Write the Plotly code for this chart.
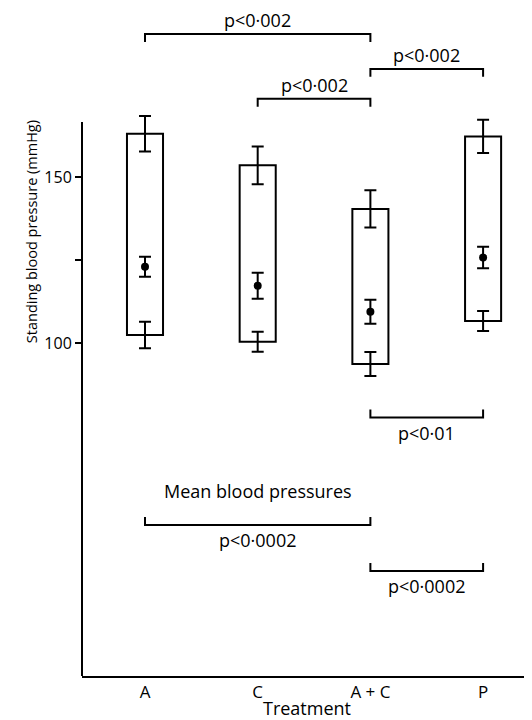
import plotly.graph_objects as go

# ---- data ----
treatments = ["A", "C", "A + C", "P"]
mean_bp = [123.0, 117.3, 109.5, 125.8]
mean_se = [3.0, 3.9, 3.6, 3.2]
high_bp = [163.0, 153.5, 140.4, 162.2]
high_se = [5.3, 5.7, 5.6, 5.0]
low_bp = [102.5, 100.5, 93.8, 106.7]
low_se = [4.0, 3.0, 3.6, 3.0]

# comparisons: (from index, to index, level in mmHg, label, side)
comparisons = [
    (0, 2, 193.0, "p<0·002", "top"),
    (1, 2, 173.5, "p<0·002", "top"),
    (2, 3, 182.5, "p<0·002", "top"),
    (2, 3, 77.7, "p<0·01", "bottom"),
    (0, 2, 45.4, "p<0·0002", "bottom"),
    (2, 3, 31.6, "p<0·0002", "bottom"),
]
note_text = "Mean blood pressures"
note_pos = (1.0, 55.6)

y_tickvals = [100, 125, 150]
y_ticktext = ["100", "", "150"]
y_axis_top = 166.5

FONT = "Open Sans"
NARROW = "Liberation Sans Narrow, Open Sans"
xs = list(range(len(treatments)))

fig = go.Figure()

# boxes spanning low to high
fig.add_trace(go.Bar(
    x=xs, y=[h - l for h, l in zip(high_bp, low_bp)], base=low_bp,
    width=0.32, marker=dict(color="rgba(0,0,0,0)", line=dict(color="black", width=2)),
    showlegend=False, hoverinfo="skip"))

err_style = dict(type="data", visible=True, color="black", thickness=2, width=6)

for vals, se in ((high_bp, high_se), (low_bp, low_se)):
    fig.add_trace(go.Scatter(
        x=xs, y=vals, mode="markers", marker=dict(size=1, opacity=0),
        error_y=dict(array=se, **err_style), showlegend=False, hoverinfo="skip"))

fig.add_trace(go.Scatter(
    x=xs, y=mean_bp, mode="markers", marker=dict(size=8, color="black"),
    error_y=dict(array=mean_se, **err_style), showlegend=False))

annotations = []
d = 2.4
for i, j, lvl, lab, side in comparisons:
    tick = lvl - d if side == "top" else lvl + d
    fig.add_trace(go.Scatter(
        x=[i, i, j, j], y=[tick, lvl, lvl, tick], mode="lines",
        line=dict(color="black", width=2), showlegend=False, hoverinfo="skip"))
    annotations.append(dict(
        x=(i + j) / 2, y=lvl, xref="x", yref="y", text=lab, showarrow=False,
        yshift=14 if side == "top" else -15,
        font=dict(family=FONT, size=18, color="black")))

annotations.append(dict(
    x=note_pos[0], y=note_pos[1], xref="x", yref="y", text=note_text,
    showarrow=False, font=dict(family=FONT, size=18, color="black")))

annotations.append(dict(
    x=-0.136, y=133.5, xref="paper", yref="y", text="Standing blood pressure (mmHg)",
    textangle=-90, showarrow=False, font=dict(family=NARROW, size=14.5, color="black")))

fig.update_layout(
    width=524, height=712,
    margin=dict(l=74, r=0, t=2, b=44),
    paper_bgcolor="white", plot_bgcolor="white",
    annotations=annotations,
    shapes=[dict(type="line", xref="paper", yref="y", x0=0, x1=0, y0=0, y1=y_axis_top,
                 line=dict(color="black", width=2))],
    xaxis=dict(range=[-0.559, 3.434], tickvals=xs, ticktext=treatments,
               showline=True, linecolor="black", linewidth=2, ticks="",
               showgrid=False, zeroline=False,
               tickfont=dict(family=FONT, size=17, color="black"),
               title=dict(text="Treatment", standoff=1,
                          font=dict(family=FONT, size=18, color="black"))),
    yaxis=dict(range=[0, 200.2], tickvals=y_tickvals, ticktext=y_ticktext,
               showline=False, ticks="outside", ticklen=6, tickwidth=1.5, tickcolor="black",
               showgrid=False, zeroline=False,
               tickfont=dict(family=FONT, size=16, color="black")),
)

fig.write_html("out.html")
